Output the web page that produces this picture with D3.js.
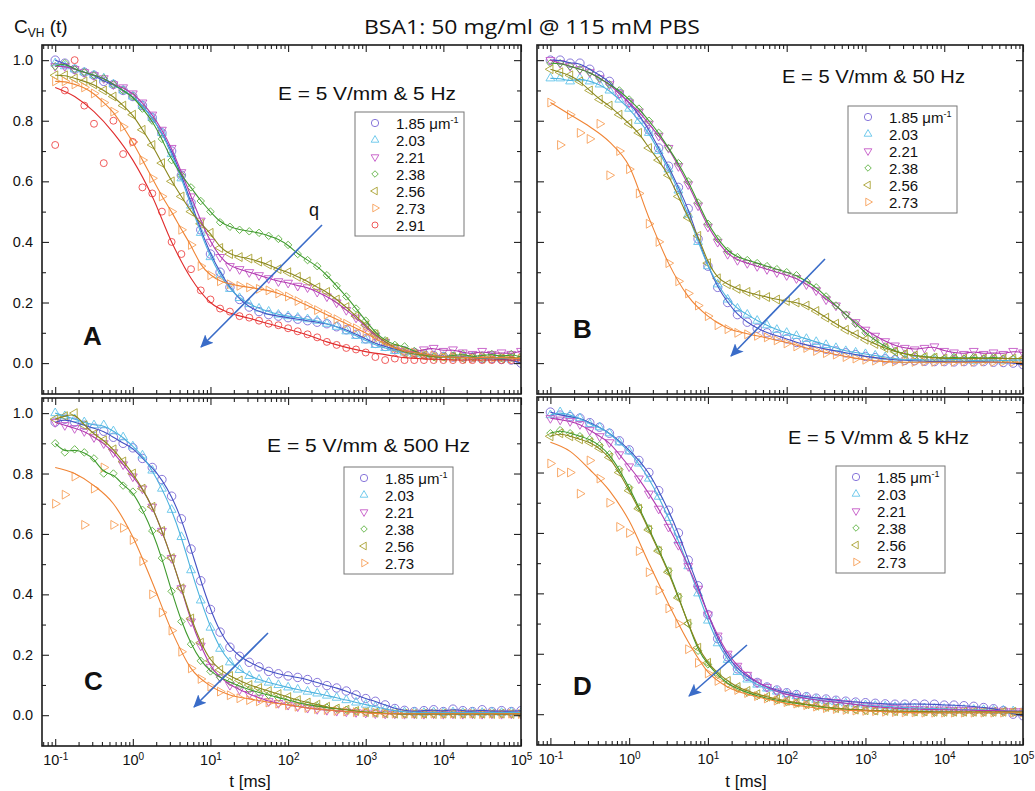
<!DOCTYPE html>
<html>
<head>
<meta charset="utf-8">
<style>
  body { margin: 0; background: #fff; }
  svg text { font-family: "Liberation Sans", Arial, sans-serif; fill: #111; }
</style>
</head>
<body>
<script src="https://cdnjs.cloudflare.com/ajax/libs/d3/7.8.5/d3.min.js"></script>
<script>

// ---- data ------------------------------------------------------------

// lag times of the plotted points (8 per decade) and of the fit curves (4 per decade)
const tMarks = [0.1, 0.133, 0.178, 0.237, 0.316, 0.422, 0.562, 0.75,
  1, 1.33, 1.78, 2.37, 3.16, 4.22, 5.62, 7.5,
  10, 13.3, 17.8, 23.7, 31.6, 42.2, 56.2, 75,
  100, 133, 178, 237, 316, 422, 562, 750,
  1000, 1330, 1780, 2370, 3160, 4220, 5620, 7500,
  1e4, 13300, 17800, 23700, 31600, 42200, 56200, 75000, 1e5];
const tFit = [0.1, 0.178, 0.316, 0.562, 1, 1.78, 3.16, 5.62, 10, 17.8, 31.6, 56.2,
  100, 178, 316, 562, 1000, 1780, 3160, 5620, 1e4, 17800, 31600, 56200, 1e5];

const qLabels = ["1.85", "2.03", "2.21", "2.38", "2.56", "2.73", "2.91"];
const fieldLabels = ["E = 5 V/mm & 5 Hz", "E = 5 V/mm & 50 Hz", "E = 5 V/mm & 500 Hz", "E = 5 V/mm & 5 kHz"];
const panelLetters = ["A", "B", "C", "D"];
const xTickExps = [-1, 0, 1, 2, 3, 4, 5];
const yTickValues = [0, 0.2, 0.4, 0.6, 0.8, 1.0];

// A: 5 Hz
const a185 = [1.00,0.99,0.97,0.96,0.95,0.93,0.92,0.90,
  0.88,0.85,0.81,0.76,0.70,0.62,0.53,0.44,
  0.36,0.30,0.25,0.21,0.185,0.17,0.16,0.155,
  0.15,0.145,0.14,0.135,0.13,0.12,0.11,0.095,
  0.08,0.065,0.055,0.045,0.04,0.035,0.03,0.025,
  0.022,0.02,0.02,0.018,0.015,0.015,0.012,0.01,0.0];
const a203 = [0.99,0.98,0.97,0.96,0.95,0.94,0.92,0.90,
  0.88,0.85,0.81,0.76,0.69,0.61,0.52,0.43,
  0.35,0.29,0.245,0.215,0.195,0.18,0.17,0.16,
  0.155,0.15,0.145,0.14,0.13,0.12,0.105,0.09,
  0.075,0.06,0.05,0.04,0.035,0.03,0.025,0.022,
  0.02,0.02,0.018,0.02,0.015,0.018,0.015,0.015,0.012];
const a221 = [0.98,0.98,0.97,0.96,0.95,0.94,0.92,0.91,
  0.89,0.86,0.82,0.77,0.71,0.63,0.55,0.47,
  0.40,0.35,0.32,0.31,0.30,0.29,0.28,0.27,
  0.265,0.255,0.25,0.235,0.22,0.20,0.175,0.15,
  0.12,0.09,0.07,0.05,0.04,0.035,0.045,0.05,
  0.04,0.045,0.035,0.03,0.04,0.03,0.035,0.03,0.04];
const a238 = [0.98,0.99,0.97,0.96,0.95,0.94,0.92,0.90,
  0.88,0.84,0.80,0.74,0.67,0.62,0.58,0.535,
  0.50,0.465,0.45,0.44,0.435,0.43,0.42,0.41,
  0.39,0.36,0.34,0.32,0.29,0.255,0.22,0.18,
  0.14,0.10,0.075,0.06,0.055,0.04,0.025,0.02,
  0.02,0.025,0.03,0.02,0.025,0.03,0.02,0.03,0.02];
const a256 = [0.95,0.95,0.94,0.93,0.92,0.90,0.88,0.85,
  0.82,0.77,0.72,0.66,0.60,0.55,0.50,0.46,
  0.43,0.38,0.36,0.35,0.345,0.335,0.325,0.31,
  0.30,0.285,0.27,0.25,0.235,0.21,0.185,0.155,
  0.125,0.095,0.07,0.05,0.035,0.03,0.025,0.02,
  0.02,0.02,0.015,0.02,0.015,0.02,0.015,0.02,0.015];
const a273 = [0.93,0.93,0.92,0.91,0.89,0.86,0.83,0.78,
  0.73,0.67,0.61,0.55,0.50,0.44,0.39,0.32,
  0.29,0.27,0.26,0.255,0.25,0.245,0.24,0.23,
  0.22,0.205,0.19,0.175,0.16,0.145,0.13,0.115,
  0.10,0.08,0.065,0.05,0.04,0.035,0.03,0.025,
  0.02,0.02,0.02,0.015,0.02,0.015,0.02,0.015,0.015];
const a291 = [0.72,0.90,1.00,0.85,0.79,0.66,0.80,0.69,
  0.73,0.58,0.56,0.50,0.40,0.36,0.31,0.24,
  0.21,0.18,0.17,0.155,0.15,0.14,0.13,0.125,
  0.115,0.105,0.095,0.085,0.07,0.06,0.05,0.045,
  0.035,0.02,0.01,0.015,0.01,0.01,0.01,0.01,
  0.01,0.01,0.01,0.01,0.01,0.01,0.01,0.01,0.01];
const a291Fit = [0.91,0.88,0.83,0.76,0.67,0.55,0.40,0.28,0.20,0.165,0.148,0.13,
  0.112,0.093,0.07,0.052,0.038,0.028,0.018,0.014,0.012,0.01,0.01,0.01,0.01];

// B: 50 Hz
const b185 = [1.00,1.00,0.99,0.99,0.97,0.95,0.93,0.89,
  0.86,0.82,0.77,0.71,0.65,0.58,0.51,0.41,
  0.32,0.25,0.20,0.16,0.135,0.115,0.10,0.09,
  0.08,0.068,0.06,0.053,0.046,0.04,0.034,0.028,
  0.022,0.018,0.014,0.011,0.009,0.008,0.006,0.005,
  0.005,0.004,0.005,0.004,0.005,0.003,0.002,0.0,-0.005];
const b203 = [0.94,0.94,0.93,0.94,0.93,0.92,0.90,0.87,
  0.84,0.80,0.76,0.70,0.64,0.57,0.49,0.40,
  0.32,0.26,0.21,0.18,0.16,0.14,0.125,0.11,
  0.10,0.09,0.08,0.07,0.06,0.05,0.04,0.035,
  0.03,0.025,0.02,0.015,0.01,0.012,0.01,0.01,
  0.01,0.012,0.01,0.008,0.01,0.01,0.008,0.01,0.01];
const b221 = [1.00,0.99,0.98,0.97,0.96,0.94,0.92,0.89,
  0.86,0.83,0.79,0.75,0.71,0.65,0.59,0.52,
  0.45,0.40,0.36,0.34,0.33,0.32,0.31,0.30,
  0.29,0.28,0.26,0.24,0.21,0.19,0.16,0.135,
  0.11,0.09,0.072,0.058,0.05,0.045,0.05,0.055,
  0.04,0.035,0.03,0.04,0.03,0.035,0.03,0.04,0.035];
const b238 = [0.99,0.99,0.98,0.97,0.96,0.94,0.92,0.90,
  0.87,0.84,0.80,0.76,0.71,0.66,0.60,0.53,
  0.46,0.41,0.37,0.35,0.34,0.33,0.32,0.31,
  0.30,0.29,0.27,0.25,0.22,0.19,0.16,0.13,
  0.10,0.075,0.055,0.04,0.03,0.025,0.02,0.02,
  0.015,0.02,0.015,0.02,0.015,0.02,0.015,0.015,0.015];
const b256 = [0.97,0.96,0.95,0.93,0.90,0.87,0.85,0.82,
  0.79,0.76,0.71,0.67,0.62,0.55,0.48,0.42,
  0.33,0.28,0.26,0.245,0.235,0.225,0.218,0.21,
  0.205,0.20,0.19,0.172,0.15,0.13,0.11,0.095,
  0.077,0.063,0.05,0.038,0.03,0.025,0.02,0.018,
  0.015,0.015,0.015,0.015,0.015,0.015,0.015,0.015,0.015];
const b273 = [0.86,0.72,0.82,0.76,0.74,0.79,0.62,0.70,
  0.64,0.56,0.46,0.40,0.33,0.27,0.23,0.19,
  0.155,0.125,0.112,0.10,0.095,0.09,0.085,0.075,
  0.065,0.055,0.05,0.04,0.033,0.028,0.02,0.015,
  0.011,0.008,0.006,0.005,0.005,0.004,0.005,0.004,
  0.005,0.004,0.005,0.004,0.005,0.004,0.005,0.004,0.005];
const b273Fit = [0.86,0.82,0.78,0.73,0.65,0.48,0.33,0.22,0.155,0.115,0.097,0.083,
  0.068,0.05,0.035,0.022,0.011,0.005,0.003,0.003,0.003,0.003,0.003,0.003,0.003];

// C: 500 Hz
const c185 = [0.97,0.98,0.97,0.96,0.95,0.94,0.92,0.90,
  0.885,0.85,0.82,0.78,0.725,0.65,0.55,0.445,
  0.35,0.275,0.225,0.195,0.175,0.16,0.145,0.137,
  0.13,0.125,0.118,0.108,0.098,0.09,0.08,0.067,
  0.055,0.046,0.034,0.022,0.016,0.012,0.015,0.018,
  0.012,0.02,0.015,0.012,0.018,0.012,0.015,0.012,0.015];
const c203 = [1.00,0.99,0.98,0.97,0.96,0.96,0.94,0.92,
  0.89,0.86,0.81,0.75,0.68,0.59,0.48,0.38,
  0.29,0.22,0.175,0.15,0.13,0.118,0.108,0.10,
  0.092,0.085,0.078,0.072,0.065,0.058,0.05,0.042,
  0.035,0.028,0.02,0.015,0.01,0.01,0.008,0.01,
  0.008,0.01,0.008,0.01,0.008,0.01,0.008,0.01,0.008];
const c221 = [0.97,0.96,0.95,0.94,0.92,0.90,0.87,0.83,
  0.79,0.75,0.69,0.61,0.52,0.42,0.31,0.23,
  0.16,0.125,0.10,0.085,0.07,0.058,0.046,0.04,
  0.034,0.029,0.024,0.02,0.017,0.014,0.012,0.01,
  0.008,0.006,0.005,0.005,0.004,0.005,0.004,0.005,
  0.004,0.005,0.004,0.005,0.004,0.005,0.004,0.005,0.004];
const c238 = [0.90,0.87,0.88,0.87,0.85,0.80,0.80,0.76,
  0.74,0.68,0.61,0.52,0.41,0.31,0.235,0.18,
  0.145,0.125,0.11,0.096,0.085,0.075,0.067,0.058,
  0.05,0.042,0.035,0.03,0.025,0.021,0.018,0.014,
  0.01,0.008,0.006,0.005,0.004,0.005,0.004,0.005,
  0.004,0.005,0.004,0.005,0.004,0.005,0.004,0.005,0.004];
const c256 = [0.98,0.99,1.00,0.96,0.93,0.91,0.88,0.84,
  0.80,0.75,0.69,0.61,0.52,0.42,0.32,0.24,
  0.18,0.15,0.13,0.115,0.10,0.09,0.08,0.07,
  0.06,0.05,0.042,0.035,0.028,0.022,0.018,0.014,
  0.01,0.008,0.006,0.005,0.005,0.004,0.005,0.004,
  0.005,0.004,0.005,0.004,0.005,0.004,0.005,0.004,0.005];
const c273 = [0.70,0.73,0.79,0.63,0.75,0.82,0.63,0.62,
  0.58,0.51,0.40,0.34,0.28,0.21,0.155,0.12,
  0.095,0.078,0.066,0.056,0.05,0.046,0.042,0.038,
  0.033,0.028,0.024,0.02,0.017,0.014,0.012,0.01,
  0.01,0.008,0.006,0.005,0.004,0.005,0.004,0.005,
  0.004,0.005,0.004,0.005,0.004,0.005,0.004,0.005,0.004];
const c273Fit = [0.82,0.80,0.76,0.70,0.59,0.44,0.28,0.155,0.097,0.067,0.054,0.043,
  0.034,0.024,0.017,0.012,0.008,0.005,0.005,0.005,0.005,0.005,0.005,0.005,0.005];

// D: 5 kHz
const d185 = [1.00,0.99,0.985,0.98,0.965,0.95,0.93,0.905,
  0.875,0.84,0.80,0.74,0.675,0.60,0.51,0.425,
  0.33,0.25,0.19,0.15,0.125,0.105,0.09,0.08,
  0.071,0.065,0.058,0.053,0.05,0.046,0.043,0.04,
  0.038,0.036,0.034,0.033,0.033,0.034,0.033,0.033,
  0.03,0.03,0.028,0.026,0.022,0.018,0.012,0.0,-0.005];
const d203 = [0.99,1.00,0.99,0.98,0.96,0.95,0.93,0.90,
  0.87,0.83,0.78,0.72,0.65,0.575,0.49,0.40,
  0.31,0.235,0.18,0.14,0.115,0.098,0.085,0.075,
  0.066,0.06,0.054,0.048,0.043,0.04,0.036,0.033,
  0.03,0.028,0.026,0.024,0.022,0.02,0.02,0.018,
  0.018,0.016,0.015,0.015,0.014,0.012,0.012,0.01,0.01];
const d221 = [0.98,0.975,0.97,0.96,0.94,0.92,0.90,0.86,
  0.82,0.78,0.73,0.68,0.62,0.56,0.49,0.415,
  0.33,0.26,0.20,0.16,0.13,0.105,0.09,0.075,
  0.065,0.058,0.052,0.047,0.043,0.04,0.036,0.032,
  0.028,0.025,0.022,0.02,0.018,0.017,0.016,0.015,
  0.015,0.014,0.014,0.013,0.012,0.012,0.011,0.01,0.01];
const d238 = [0.93,0.94,0.93,0.92,0.91,0.89,0.86,0.81,
  0.75,0.685,0.615,0.545,0.475,0.39,0.30,0.21,
  0.165,0.13,0.10,0.085,0.072,0.06,0.053,0.046,
  0.04,0.036,0.031,0.026,0.022,0.019,0.016,0.014,
  0.012,0.01,0.01,0.008,0.008,0.006,0.006,0.005,
  0.005,0.005,0.005,0.005,0.005,0.005,0.005,0.005,0.005];
const d256 = [0.92,0.93,0.92,0.91,0.90,0.88,0.85,0.80,
  0.74,0.68,0.61,0.54,0.47,0.385,0.30,0.22,
  0.17,0.135,0.11,0.09,0.077,0.066,0.058,0.05,
  0.044,0.038,0.033,0.028,0.024,0.02,0.017,0.015,
  0.013,0.012,0.011,0.01,0.01,0.009,0.009,0.008,
  0.008,0.008,0.008,0.008,0.008,0.008,0.008,0.008,0.008];
const d273 = [0.83,0.80,0.80,0.73,0.84,0.78,0.70,0.62,
  0.60,0.54,0.47,0.41,0.35,0.30,0.215,0.17,
  0.135,0.11,0.09,0.08,0.07,0.06,0.052,0.045,
  0.04,0.035,0.03,0.025,0.02,0.017,0.014,0.012,
  0.011,0.01,0.008,0.007,0.006,0.006,0.005,0.005,
  0.005,0.005,0.005,0.005,0.005,0.005,0.005,0.005,0.005];
const d273Fit = [0.90,0.87,0.81,0.74,0.64,0.50,0.365,0.24,0.14,0.09,0.066,0.05,
  0.035,0.025,0.017,0.013,0.011,0.008,0.006,0.005,0.005,0.005,0.005,0.005,0.005];

// series per panel (index = q), fits only where the fit differs from the points
const panels = [
  {series: [a185, a203, a221, a238, a256, a273, a291], fits: {6: a291Fit}},
  {series: [b185, b203, b221, b238, b256, b273], fits: {5: b273Fit}},
  {series: [c185, c203, c221, c238, c256, c273], fits: {5: c273Fit}},
  {series: [d185, d203, d221, d238, d256, d273], fits: {5: d273Fit}}
];

// ---- look ---------------------------------------------------------------

const styles = [
  {type: d3.symbolCircle,   rot: 0,   size: 56, color: "#7a68d6", line: "#4452c4"},
  {type: d3.symbolTriangle, rot: 0,   size: 34, color: "#62c4ea", line: "#4cb2de"},
  {type: d3.symbolTriangle, rot: 180, size: 34, color: "#c457c6", line: "#b23ab0"},
  {type: d3.symbolSquare,   rot: 45,  size: 28, color: "#66b64a", line: "#3f9a2e"},
  {type: d3.symbolTriangle, rot: -90, size: 34, color: "#a9a232", line: "#8a861c"},
  {type: d3.symbolTriangle, rot: 90,  size: 34, color: "#f7a05a", line: "#f08434"},
  {type: d3.symbolCircle,   rot: 0,   size: 38, color: "#ee4848", line: "#e02c2c"}
];
// legend symbols are a little smaller than the plotted ones
const legendScale = 0.75;

const frames = [
  {x0: 42,  x1: 521,  y0: 45,  y1: 394},
  {x0: 537, x1: 1023, y0: 45,  y1: 394},
  {x0: 42,  x1: 521,  y0: 398, y1: 746},
  {x0: 537, x1: 1023, y0: 397, y1: 745}
];

// text / legend / arrow placement for each panel
const layout = [
  {letter: [83, 345],  field: [278, 100, 178], legend: [355, 112], arrow: [322, 225, 201, 347]},
  {letter: [573, 338], field: [782, 83, 183],  legend: [848, 106], arrow: [825, 259, 731, 356]},
  {letter: [84, 690],  field: [267, 452, 203], legend: [344, 467], arrow: [268, 633, 194, 707]},
  {letter: [573, 695], field: [788, 444, 181], legend: [836, 466], arrow: [747, 645, 689, 696]}
];

const xMin = Math.pow(10, -1.17);
const blueArrow = "#3a6cc8";

const svg = d3.select("body").append("svg")
    .attr("width", 1035)
    .attr("height", 791);

svg.append("rect").attr("width", 1035).attr("height", 791).attr("fill", "#fff");

const defs = svg.append("defs");
defs.append("marker")
    .attr("id", "head")
    .attr("markerUnits", "userSpaceOnUse")
    .attr("markerWidth", 14).attr("markerHeight", 12)
    .attr("refX", 12).attr("refY", 6)
    .attr("orient", "auto")
  .append("path")
    .attr("d", "M0,0 L13,6 L0,12 L3,6 z")
    .attr("fill", blueArrow);

// title + y label
svg.append("text")
    .attr("x", 364).attr("y", 34)
    .attr("textLength", 336)
    .attr("lengthAdjust", "spacingAndGlyphs")
    .style("font-family", "'Open Sans', sans-serif")
    .style("font-size", "19.5px")
    .text("BSA1: 50 mg/ml @ 115 mM PBS");

const cvh = svg.append("text").attr("x", 14).attr("y", 33).style("font-size", "19px");
cvh.append("tspan").text("C");
cvh.append("tspan").attr("dy", 4).style("font-size", "12px").text("VH");
cvh.append("tspan").attr("dy", -4).text(" (t)");

// x axis titles
[250, 746].forEach(cx => {
  svg.append("text")
      .attr("x", cx).attr("y", 787)
      .attr("text-anchor", "middle")
      .style("font-size", "17px")
      .text("t [ms]");
});

function minorDecades(lo, hi) {
  const out = [];
  for (let e = -2; e <= 5; e++) {
    for (let m = 2; m <= 9; m++) {
      const v = m * Math.pow(10, e);
      if (v >= lo && v <= hi) out.push(v);
    }
  }
  return out;
}

panels.forEach((p, i) => {
  const f = frames[i], L = layout[i];
  const isLeft = (i % 2 === 0), isBottom = (i >= 2);

  const x = d3.scaleLog().domain([xMin, 1e5]).range([f.x0, f.x1]);
  const y = d3.scaleLinear().domain([-0.102, 1.05]).range([f.y1, f.y0]);

  const g = svg.append("g");

  defs.append("clipPath").attr("id", "clip" + i)
    .append("rect")
      .attr("x", f.x0).attr("y", f.y0)
      .attr("width", f.x1 - f.x0).attr("height", f.y1 - f.y0);

  const plot = g.append("g").attr("clip-path", "url(#clip" + i + ")");

  // points
  p.series.forEach((vals, s) => {
    const st = styles[s];
    const sym = d3.symbol().type(st.type).size(st.size);
    plot.append("g").selectAll("path")
      .data(vals.map((v, k) => [tMarks[k], v]))
      .join("path")
        .attr("d", sym)
        .attr("transform", d => "translate(" + x(d[0]) + "," + y(d[1]) + ") rotate(" + st.rot + ")")
        .attr("fill", "none")
        .attr("stroke", st.color)
        .attr("stroke-width", 0.9);
  });

  // fit curves
  p.series.forEach((vals, s) => {
    const fit = p.fits[s];
    const pts = fit ? fit.map((v, k) => [tFit[k], v]) : vals.map((v, k) => [tMarks[k], v]);
    const line = d3.line()
        .x(d => x(d[0])).y(d => y(d[1]))
        .curve(fit ? d3.curveMonotoneX : d3.curveBasis);
    plot.append("path")
        .attr("d", line(pts))
        .attr("fill", "none")
        .attr("stroke", styles[s].line)
        .attr("stroke-width", 1.1);
  });

  // axes: inward ticks on all four sides
  const majors = xTickExps.map(e => Math.pow(10, e));
  const minors = minorDecades(xMin, 1e5);
  const yMinor = [0.1, 0.3, 0.5, 0.7, 0.9];

  const bottom = g.append("g").attr("transform", "translate(0," + f.y1 + ")")
      .call(d3.axisBottom(x).tickValues(majors).tickSize(-7).tickPadding(9)
        .tickFormat(d => isBottom ? d : ""));
  g.append("g").attr("transform", "translate(0," + f.y1 + ")")
      .call(d3.axisBottom(x).tickValues(minors).tickSize(-4).tickFormat(""));
  g.append("g").attr("transform", "translate(0," + f.y0 + ")")
      .call(d3.axisTop(x).tickValues(majors).tickSize(-7).tickFormat(""));
  g.append("g").attr("transform", "translate(0," + f.y0 + ")")
      .call(d3.axisTop(x).tickValues(minors).tickSize(-4).tickFormat(""));

  g.append("g").attr("transform", "translate(" + f.x0 + ",0)")
      .call(d3.axisLeft(y).tickValues(yTickValues).tickSize(-7).tickPadding(9)
        .tickFormat(d => isLeft ? d3.format(".1f")(d) : ""));
  g.append("g").attr("transform", "translate(" + f.x0 + ",0)")
      .call(d3.axisLeft(y).tickValues(yMinor).tickSize(-4).tickFormat(""));
  g.append("g").attr("transform", "translate(" + f.x1 + ",0)")
      .call(d3.axisRight(y).tickValues(yTickValues).tickSize(-7).tickFormat(""));
  g.append("g").attr("transform", "translate(" + f.x1 + ",0)")
      .call(d3.axisRight(y).tickValues(yMinor).tickSize(-4).tickFormat(""));

  g.selectAll(".domain").remove();
  g.selectAll(".tick line").attr("stroke", "#222").attr("stroke-width", 1.1);
  g.selectAll(".tick text")
      .attr("font-family", null)
      .style("font-size", "14.5px")
      .attr("fill", "#111");

  // 10^n labels with superscripts
  if (isBottom) {
    bottom.selectAll(".tick text").each(function(d) {
      const t = d3.select(this).text("");
      t.append("tspan").text("10");
      t.append("tspan").attr("dy", "-0.55em").style("font-size", "10px")
        .text(Math.round(Math.log10(d)));
    });
  }

  // frame
  g.append("rect")
      .attr("x", f.x0).attr("y", f.y0)
      .attr("width", f.x1 - f.x0).attr("height", f.y1 - f.y0)
      .attr("fill", "none")
      .attr("stroke", "#1a1a1a")
      .attr("stroke-width", 1.6);

  // panel letter and field label
  g.append("text")
      .attr("x", L.letter[0]).attr("y", L.letter[1])
      .style("font-size", "26px").style("font-weight", "bold")
      .text(panelLetters[i]);
  g.append("text")
      .attr("x", L.field[0]).attr("y", L.field[1])
      .attr("textLength", L.field[2])
      .attr("lengthAdjust", "spacingAndGlyphs")
      .style("font-size", "19px")
      .text(fieldLabels[i]);

  // q arrow
  g.append("line")
      .attr("x1", L.arrow[0]).attr("y1", L.arrow[1])
      .attr("x2", L.arrow[2]).attr("y2", L.arrow[3])
      .attr("stroke", blueArrow).attr("stroke-width", 1.6)
      .attr("marker-end", "url(#head)");
  if (i === 0) {
    g.append("text").attr("x", 309).attr("y", 216)
        .style("font-size", "18px").text("q");
  }

  // legend
  const n = p.series.length;
  const lx = L.legend[0], ly = L.legend[1], rowH = 17;
  const lg = g.append("g");
  lg.append("rect")
      .attr("x", lx).attr("y", ly)
      .attr("width", 109).attr("height", 11 + (n - 1) * rowH + 11)
      .attr("fill", "#fff")
      .attr("stroke", "#777").attr("stroke-width", 1);
  qLabels.slice(0, n).forEach((q, s) => {
    const st = styles[s];
    const cy = ly + 11 + s * rowH;
    lg.append("path")
        .attr("d", d3.symbol().type(st.type).size(st.size * legendScale)())
        .attr("transform", "translate(" + (lx + 20) + "," + cy + ") rotate(" + st.rot + ")")
        .attr("fill", "none").attr("stroke", st.color).attr("stroke-width", 0.9);
    const t = lg.append("text")
        .attr("x", lx + 41).attr("y", cy + 5.5)
        .style("font-size", "15px")
        .text(q);
    if (s === 0) {
      t.append("tspan").text(" \u03bcm");
      t.append("tspan").attr("dy", -6).style("font-size", "9px").text("-1");
    }
  });
});

</script>
</body>
</html>
